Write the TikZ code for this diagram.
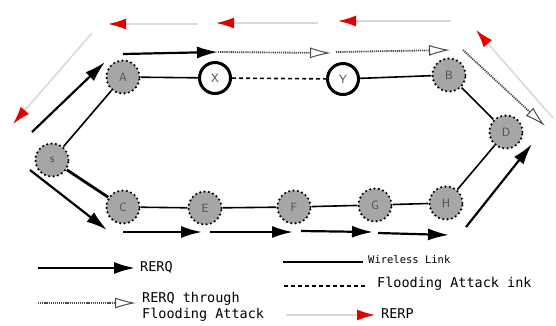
\documentclass[tikz,border=0pt]{standalone}
\usepackage{fontspec}
\setmonofont{DejaVu Sans Mono}
\usetikzlibrary{arrows.meta}
\tikzset{
  host/.style={circle, fill=gray!70, draw=black, line width=2.4pt, dash pattern=on 0pt off 4.4pt, line cap=round, minimum size=33pt, inner sep=0pt, text=black!70, font=\sffamily\fontsize{12}{12}\selectfont},
  intruder/.style={circle, fill=white, draw=black, line width=3pt, minimum size=31pt, inner sep=0pt, text=black!75, font=\sffamily\fontsize{12}{12}\selectfont},
  link/.style={line width=1.6pt},
  flink/.style={line width=1.6pt, dash pattern=on 4pt off 3pt},
  rerq/.style={line width=2.2pt, -{Latex[length=21pt,width=12pt]}},
  frerq/.style={line width=1.8pt, dash pattern=on 1.2pt off 0.9pt, black!70, -{Latex[open,length=21pt,width=11pt,line width=1pt]}},
  rerp/.style={line width=1.6pt, gray!30, -{Latex[color=red!90!black,length=18pt,width=11pt]}},
  lbl/.style={anchor=west, inner sep=0pt, font=\ttfamily\fontsize{13.5}{16}\selectfont, align=left},
}

\begin{document}
\begin{tikzpicture}[x=1pt,y=-1pt]
  \useasboundingbox (0,0) rectangle (556,325);
  % hosts
  \node[host] (s) at (52,160) {s};
  \node[host] (a) at (123,77) {A};
  \node[intruder] (x) at (215,78) {X};
  \node[intruder] (y) at (343,79) {Y};
  \node[host] (b) at (449,75) {B};
  \node[host] (d) at (506,132) {D};
  \node[host] (c) at (123,207) {C};
  \node[host] (e) at (205,208) {E};
  \node[host] (f) at (294,207) {F};
  \node[host] (g) at (375,205) {G};
  \node[host] (h) at (446,203) {H};
  % links
  \draw[link] (s) -- (a);
  \draw[link] (a) -- (x);
  \draw[flink] (x) -- (y);
  \draw[link] (y) -- (b);
  \draw[link] (b) -- (d);
  \draw[link] (d) -- (h);
  \draw[link] (h) -- (g);
  \draw[link] (g) -- (f);
  \draw[link] (f) -- (e);
  \draw[link] (e) -- (c);
  \draw[line width=2.8pt] (c) -- (s);
  % route request, upper path
  \draw[rerq] (32,132) -- (105,62);
  \draw[rerq] (123,54) -- (218,52);
  \draw[frerq] (218,52) -- (331,53);
  \draw[frerq] (336,52) -- (450,50);
  \draw[frerq] (463,50) -- (545,126);
  % route request, lower path
  \draw[rerq] (30,170) -- (107,230);
  \draw[rerq] (123,232) -- (202,232);
  \draw[rerq] (210,232) -- (293,232);
  \draw[rerq] (301,231) -- (373,232);
  \draw[rerq] (378,233) -- (449,235);
  \draw[rerq] (466,227) -- (532,144);
  % route reply
  \draw[rerp] (553,118) -- (476,30);
  \draw[rerp] (451,21) -- (338,21);
  \draw[rerp] (318,23) -- (216,23);
  \draw[rerp] (198,24) -- (108,24);
  \draw[rerp] (92,33) -- (13,124);
  % legend
  \draw[rerq] (38,268) -- (135,268);
  \node[lbl] (l1) at (140,267) {RERQ};
  \draw[frerq] (38,303) -- (136,303);
  \node[lbl] (l2) at (142,307) {RERQ through\\Flooding Attack};
  \draw[link] (283,262) -- (363,262);
  \node[lbl, font=\ttfamily\fontsize{10.5}{12}\selectfont] (l3) at (368,260) {Wireless Link};
  \draw[flink] (284,286) -- (366,286);
  \node[lbl] (l4) at (377,284) {Flooding Attack ink};
  \draw[rerp] (286,315) -- (375,315);
  \node[lbl] (l5) at (381,314) {RERP};
\end{tikzpicture}
\end{document}
